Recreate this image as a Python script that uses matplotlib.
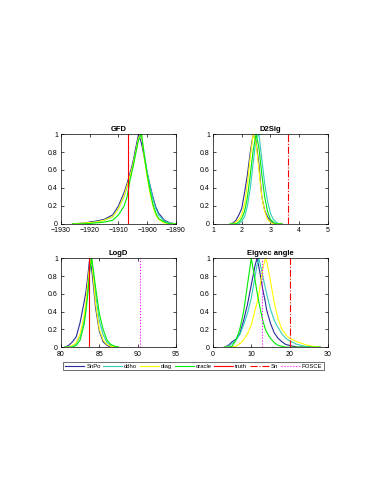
import numpy as np
import matplotlib
matplotlib.use("Agg")
import matplotlib.pyplot as plt
from matplotlib.lines import Line2D

plt.rcParams.update({
    "font.family": ["Liberation Sans", "DejaVu Sans"],
    "font.size": 5,
    "axes.linewidth": 0.5,
    "xtick.direction": "in",
    "ytick.direction": "in",
    "xtick.top": True,
    "ytick.right": True,
    "xtick.major.size": 2,
    "ytick.major.size": 2,
    "xtick.major.width": 0.5,
    "ytick.major.width": 0.5,
    "xtick.major.pad": 2.5,
    "ytick.major.pad": 2.2,
})

C_SNPO = "#2a2a9c"
C_DDHO = "#33ccbb"
C_DIAG = "#ffff00"
C_ORACLE = "#00ee00"

# ---- GFD ----
x_gfd = [-1926, -1922, -1918, -1915, -1912, -1910, -1908, -1907, -1906, -1905, -1904,
         -1903, -1902, -1901, -1900, -1899, -1898, -1897, -1896, -1894, -1892, -1890]
gfd_snpo = [0, 0.01, 0.03, 0.05, 0.1, 0.2, 0.35, 0.45, 0.56, 0.68, 0.84,
            1.0, 0.9, 0.74, 0.57, 0.43, 0.3, 0.19, 0.12, 0.04, 0.01, 0]
gfd_ddho = [0, 0.005, 0.02, 0.04, 0.08, 0.17, 0.31, 0.41, 0.52, 0.64, 0.79,
            0.95, 1.0, 0.78, 0.58, 0.42, 0.28, 0.17, 0.1, 0.03, 0.01, 0]
gfd_diag = [0, 0.01, 0.02, 0.04, 0.08, 0.17, 0.32, 0.42, 0.53, 0.65, 0.8,
            0.96, 1.0, 0.74, 0.52, 0.34, 0.2, 0.1, 0.05, 0.01, 0, 0]
gfd_oracle = [0, 0, 0.01, 0.02, 0.04, 0.1, 0.2, 0.3, 0.48, 0.62, 0.78,
              0.94, 1.0, 0.76, 0.55, 0.37, 0.22, 0.12, 0.06, 0.02, 0, 0]
gfd_truth = -1906.7

# ---- D2Sig ----
x_d2 = [1.6, 1.7, 1.8, 1.9, 2.0, 2.1, 2.2, 2.3, 2.4, 2.5, 2.6, 2.7, 2.8, 2.9, 3.0, 3.1, 3.2, 3.3, 3.4]
d2_snpo = [0, 0.01, 0.04, 0.1, 0.17, 0.35, 0.55, 0.8, 1.0, 0.92, 0.66, 0.3, 0.15, 0.08, 0.03, 0.01, 0, 0, 0]
d2_ddho = [0, 0, 0, 0, 0.03, 0.08, 0.2, 0.4, 0.68, 0.95, 1.0, 0.72, 0.45, 0.25, 0.12, 0.05, 0.02, 0, 0]
d2_diag = [0, 0, 0.02, 0.05, 0.1, 0.22, 0.45, 0.75, 1.0, 0.9, 0.6, 0.3, 0.14, 0.05, 0.02, 0, 0, 0, 0]
d2_oracle = [0, 0, 0, 0.02, 0.06, 0.14, 0.3, 0.55, 0.82, 1.0, 0.85, 0.55, 0.3, 0.14, 0.05, 0.02, 0, 0, 0]
d2_sn = 3.6
d2_posce = 5.0

# ---- LogD ----
x_logd = [80.5, 81, 81.5, 82, 82.5, 83, 83.25, 83.5, 83.75, 84, 84.25, 84.5, 85, 85.5, 86, 86.5, 87, 87.5]
logd_snpo = [0, 0.02, 0.06, 0.12, 0.28, 0.5, 0.62, 0.8, 1.0, 0.88, 0.68, 0.45, 0.18, 0.06, 0.02, 0, 0, 0]
logd_ddho = [0, 0, 0.01, 0.04, 0.12, 0.3, 0.45, 0.65, 0.88, 1.0, 0.8, 0.6, 0.3, 0.14, 0.05, 0.02, 0.01, 0]
logd_diag = [0, 0, 0.02, 0.05, 0.15, 0.35, 0.5, 0.72, 0.92, 1.0, 0.75, 0.5, 0.2, 0.08, 0.03, 0.01, 0.005, 0]
logd_oracle = [0, 0, 0, 0.02, 0.08, 0.25, 0.4, 0.6, 0.85, 1.0, 0.85, 0.68, 0.38, 0.2, 0.08, 0.03, 0.01, 0]
logd_truth = 83.6
logd_posce = 90.3

# ---- Eigvec angle ----
x_eig = [3, 4, 5, 6, 7, 8, 9, 10, 11, 11.5, 12, 13, 13.7, 14, 15, 16, 17, 18, 19, 20, 22, 24, 26, 28]
eig_snpo = [0, 0.02, 0.06, 0.09, 0.15, 0.3, 0.48, 0.7, 0.92, 1.0, 0.9, 0.65, 0.5, 0.42,
            0.27, 0.16, 0.1, 0.06, 0.03, 0.02, 0, 0, 0, 0]
eig_ddho = [0, 0.01, 0.04, 0.08, 0.14, 0.25, 0.38, 0.55, 0.8, 0.92, 1.0, 0.8, 0.66, 0.6,
            0.43, 0.3, 0.22, 0.15, 0.1, 0.07, 0.03, 0.01, 0, 0]
eig_diag = [0, 0, 0, 0.01, 0.04, 0.08, 0.15, 0.25, 0.42, 0.5, 0.6, 0.88, 1.0, 0.97,
            0.75, 0.5, 0.32, 0.2, 0.14, 0.1, 0.06, 0.03, 0.01, 0]
eig_oracle = [0, 0, 0.01, 0.08, 0.2, 0.4, 0.7, 1.0, 0.75, 0.62, 0.5, 0.3, 0.2, 0.17,
              0.1, 0.05, 0.02, 0.01, 0, 0, 0, 0, 0, 0]
eig_sn = 20.0
eig_posce = 12.7

panels = [
    ("GFD", x_gfd, [gfd_snpo, gfd_ddho, gfd_diag, gfd_oracle], (-1930, -1890),
     [-1930, -1920, -1910, -1900, -1890], gfd_truth, None, None),
    ("D2Sig", x_d2, [d2_snpo, d2_ddho, d2_diag, d2_oracle], (1, 5),
     [1, 2, 3, 4, 5], None, d2_sn, d2_posce),
    ("LogD", x_logd, [logd_snpo, logd_ddho, logd_diag, logd_oracle], (80, 95),
     [80, 85, 90, 95], logd_truth, None, logd_posce),
    ("Eigvec angle", x_eig, [eig_snpo, eig_ddho, eig_diag, eig_oracle], (0, 30),
     [0, 10, 20, 30], None, eig_sn, eig_posce),
]
colors = [C_SNPO, C_DDHO, C_DIAG, C_ORACLE]
rects = [
    [0.161, 0.544, 0.303, 0.183],
    [0.562, 0.544, 0.303, 0.183],
    [0.161, 0.293, 0.303, 0.181],
    [0.562, 0.293, 0.303, 0.181],
]

fig = plt.figure(figsize=(3.79, 4.91), dpi=100)
for (title, xs, series, xlim, xt, truth, sn, posce), r in zip(panels, rects):
    ax = fig.add_axes(r)
    for ys, c in zip(series, colors):
        ax.plot(xs, ys, color=c, lw=0.8)
    if truth is not None:
        ax.axvline(truth, color="red", lw=0.8)
    if sn is not None:
        ax.axvline(sn, color="red", lw=0.8, ls="-.")
    if posce is not None:
        ax.axvline(posce, color="magenta", lw=0.8, ls=":")
    ax.set_xlim(*xlim)
    ax.set_ylim(0, 1)
    ax.set_xticks(xt)
    ax.set_yticks([0, 0.2, 0.4, 0.6, 0.8, 1])
    ax.set_yticklabels(["0", "0.2", "0.4", "0.6", "0.8", "1"])
    ax.set_title(title, fontsize=5.5, fontweight="bold", pad=2)

handles = [
    Line2D([], [], color=C_SNPO, lw=0.8),
    Line2D([], [], color=C_DDHO, lw=0.8),
    Line2D([], [], color=C_DIAG, lw=0.8),
    Line2D([], [], color=C_ORACLE, lw=0.8),
    Line2D([], [], color="red", lw=0.8),
    Line2D([], [], color="red", lw=0.8, ls="-."),
    Line2D([], [], color="magenta", lw=0.8, ls=":"),
]
labels = ["SnPo", "ddho", "diag", "oracle", "truth", "Sn", "POSCE"]
leg = fig.legend(handles, labels, ncol=7, loc="center",
                 bbox_to_anchor=(0.511, 0.2545), fontsize=4.2, frameon=True,
                 fancybox=False, edgecolor="black", handlelength=3.3,
                 handletextpad=0.3, columnspacing=0.45, borderpad=0.3,
                 borderaxespad=0)
leg.get_frame().set_linewidth(0.5)

fig.savefig("out.png", dpi=100)
